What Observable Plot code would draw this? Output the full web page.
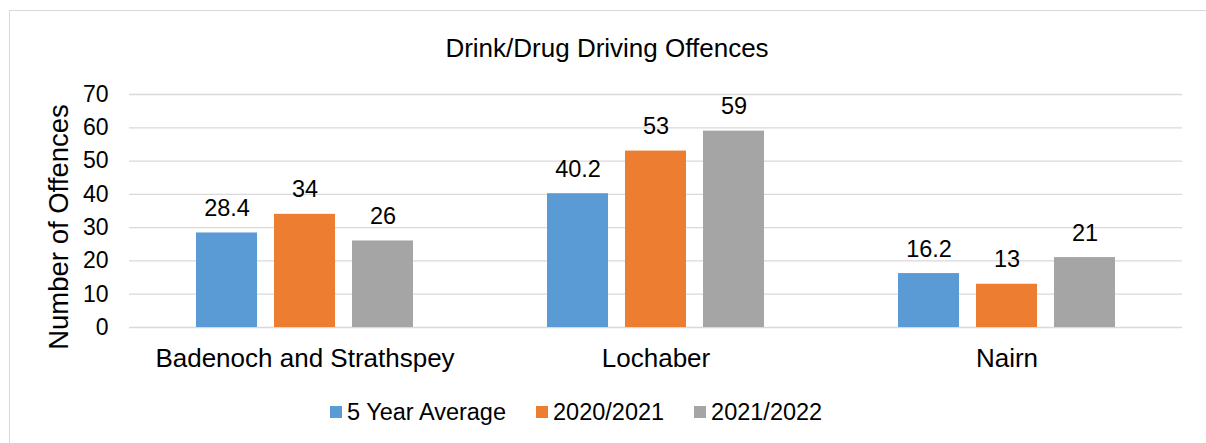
<!DOCTYPE html>
<html>
<head>
<meta charset="utf-8">
<script src="https://cdn.jsdelivr.net/npm/d3@7"></script>
<script src="https://cdn.jsdelivr.net/npm/@observablehq/plot@0.6"></script>
<style>
  html, body { margin: 0; padding: 0; background: #fff; }
  body { font-family: "Liberation Sans", Arial, sans-serif; color: #000; }
  #wrap { position: relative; width: 1206px; height: 443px; overflow: hidden; }
  #frame { position: absolute; left: 9px; top: 10px; width: 1300px; height: 500px;
           border-left: 1.3px solid #d9d9d9; border-top: 1.3px solid #d9d9d9; }
  #title { position: absolute; left: 0; top: 35px; width: 1206px; text-align: center;
           font-size: 26px; line-height: 26px; transform: translateX(4px); white-space: nowrap; }
  #ylabel { position: absolute; left: 58.5px; top: 226.5px; font-size: 27.5px; line-height: 1;
            white-space: nowrap; transform: translate(-50%, -50%) rotate(-90deg); }
  #chart { position: absolute; left: 0; top: 0; }
  #legend { position: absolute; left: 330px; top: 399px; display: flex; align-items: center;
            font-size: 23.5px; line-height: 26px; white-space: nowrap; }
  .item { display: flex; align-items: center; margin-right: 30px; }
  .sw { width: 12px; height: 12px; margin-right: 5px; }
</style>
</head>
<body>
<div id="wrap">
  <div id="frame"></div>
  <div id="chart"></div>
  <div id="title">Drink/Drug Driving Offences</div>
  <div id="ylabel">Number of Offences</div>
  <div id="legend"></div>
</div>
<script>
const categories = ["Badenoch and Strathspey", "Lochaber", "Nairn"];
const seriesNames = ["5 Year Average", "2020/2021", "2021/2022"];
const fiveYearAverage = [28.4, 40.2, 16.2];
const year2020_2021 = [34, 53, 13];
const year2021_2022 = [26, 59, 21];
const yTicks = [0, 10, 20, 30, 40, 50, 60, 70];
const seriesColors = ["#5B9BD5", "#ED7D31", "#A5A5A5"];

const seriesValues = [fiveYearAverage, year2020_2021, year2021_2022];
const data = categories.flatMap((c, i) =>
  seriesNames.map((s, j) => ({cat: c, series: s, value: seriesValues[j][i]})));

const chart = Plot.plot({
  width: 1206,
  height: 380,
  marginTop: 94,
  marginBottom: 53,
  marginLeft: 129,
  marginRight: 24,
  style: {fontFamily: "'Liberation Sans', Arial, sans-serif", color: "#000", background: "transparent"},
  fx: {domain: categories, padding: 0, label: null},
  x: {domain: seriesNames, paddingInner: 0.218, paddingOuter: 0.859, axis: null},
  y: {domain: [0, 70], label: null},
  color: {domain: seriesNames, range: seriesColors},
  marks: [
    Plot.ruleY(yTicks, {stroke: "#d9d9d9", strokeWidth: 1.3}),
    Plot.barY(data, {fx: "cat", x: "series", y: "value", fill: "series"}),
    Plot.text(data, {fx: "cat", x: "series", y: "value", text: d => String(d.value),
      lineAnchor: "bottom", dy: -17, fontSize: 23.5, fill: "#000"}),
    Plot.axisY(yTicks, {tickSize: 0, tickPadding: 21, fontSize: 23, label: null, fill: "#000"}),
    Plot.axisFx({anchor: "bottom", tickSize: 0, tickPadding: 21, fontSize: 26, label: null, fill: "#000"})
  ]
});
document.getElementById("chart").appendChild(chart);

const legend = document.getElementById("legend");
seriesNames.forEach((s, i) => {
  const item = document.createElement("div");
  item.className = "item";
  const sw = document.createElement("div");
  sw.className = "sw";
  sw.style.background = seriesColors[i];
  const t = document.createElement("span");
  t.textContent = s;
  item.appendChild(sw);
  item.appendChild(t);
  legend.appendChild(item);
});
</script>
</body>
</html>
